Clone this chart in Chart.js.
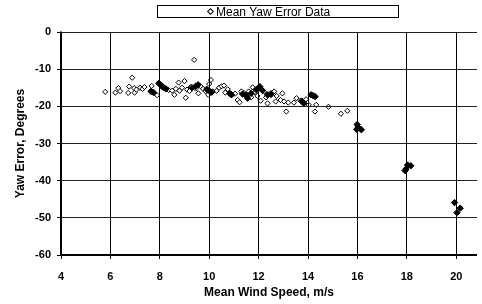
<!DOCTYPE html>
<html>
<head>
<meta charset="utf-8">
<script src="https://cdn.jsdelivr.net/npm/chart.js@4/dist/chart.umd.min.js"></script>
<style>
html,body{margin:0;padding:0;overflow:hidden;background:#fff;}
#wrap{position:absolute;left:0;top:0;width:482px;height:304px;}
#legend{position:absolute;left:157px;top:5px;width:240px;height:11px;border:1px solid #000;background:#fff;
 font-family:"Liberation Sans",Arial,sans-serif;font-size:12px;line-height:12px;color:#000;white-space:nowrap;}
#legend .mk{position:absolute;left:50px;top:3px;width:3px;height:3px;border:1px solid #000;background:#fff;transform:rotate(45deg);}
#legend .tx{position:absolute;left:58px;top:0px;}
</style>
</head>
<body>
<div id="wrap"><canvas id="c"></canvas></div>
<div id="legend"><span class="mk"></span><span class="tx">Mean Yaw Error Data</span></div>
<script>
// Open diamonds: Mean Yaw Error Data
const openX = [5.79,6.2,6.32,6.39,6.72,6.76,6.88,6.96,6.98,7.05,7.2,7.3,7.38,7.63,7.67,7.72,7.89,8.1,8.25,8.35,8.5,8.59,8.65,8.76,8.8,8.9,9.0,9.05,9.1,9.2,9.25,9.39,9.45,9.56,9.65,9.75,9.85,9.96,10.0,10.07,10.15,10.3,10.4,10.5,10.6,10.65,10.75,10.9,11.05,11.15,11.23,11.3,11.4,11.5,11.6,11.7,11.76,11.85,11.95,12.08,12.2,12.3,12.36,12.5,12.63,12.69,12.73,12.89,12.96,13.03,13.12,13.2,13.43,13.53,13.69,13.92,14.03,14.28,14.33,14.83,15.33,15.59];
const openY = [-16.1,-16.3,-15.1,-15.9,-16.4,-14.7,-12.3,-15.1,-16.3,-15.5,-15.0,-15.3,-14.8,-15.9,-14.5,-16.2,-17.0,-14.9,-15.3,-15.6,-15.8,-16.9,-15.3,-13.6,-15.8,-15.0,-13.2,-17.7,-15.5,-15.9,-14.8,-7.5,-15.2,-16.5,-14.6,-15.3,-15.9,-16.9,-14.0,-12.9,-16.0,-15.8,-15.0,-14.6,-14.4,-16.3,-15.4,-17.0,-16.6,-18.3,-18.9,-16.0,-16.4,-17.3,-16.0,-17.6,-14.9,-16.2,-17.2,-18.5,-16.0,-17.6,-19.2,-17.0,-16.0,-18.7,-17.2,-18.3,-16.5,-18.7,-21.4,-19.0,-19.0,-17.8,-18.5,-18.1,-19.6,-21.4,-19.6,-20.1,-22.0,-21.2];
// Filled diamonds
const fillX = [7.65,7.75,7.96,8.05,8.15,8.25,9.3,9.45,9.55,9.9,10.0,10.1,10.83,10.9,11.35,11.5,11.55,11.7,11.9,12.0,12.05,12.15,12.36,12.5,13.75,13.83,14.12,14.2,14.29,15.97,15.99,16.03,16.16,17.93,17.96,18.03,18.16,19.93,20.03,20.16];
const fillY = [-16.0,-16.3,-13.8,-14.3,-14.9,-15.3,-15.0,-14.6,-14.2,-15.4,-15.8,-16.2,-16.5,-16.9,-16.7,-17.0,-17.8,-16.5,-15.5,-15.0,-14.7,-15.7,-16.9,-16.6,-18.6,-19.2,-16.9,-17.1,-17.4,-26.2,-24.9,-25.6,-26.3,-37.3,-36.9,-35.8,-36.0,-45.9,-48.6,-47.4];
const xTickStep = 2;
const yTickStep = 10;

const pts = (xs, ys) => xs.map((x, i) => ({x: x, y: ys[i]}));
const FONT = '"Liberation Sans", Arial, sans-serif';

// Grid, tick marks and axis lines, positioned through the chart's own scales
const gridPlugin = {
  id: 'gridLines',
  afterDatasetsDraw(chart) {
    const {ctx, chartArea: a, scales: {x, y}} = chart;
    const al = p => Math.round(p - 0.5) + 0.5;
    const line = (x1, y1, x2, y2) => { ctx.beginPath(); ctx.moveTo(x1, y1); ctx.lineTo(x2, y2); ctx.stroke(); };
    ctx.save();
    ctx.setLineDash([]);
    ctx.globalAlpha = 1;
    ctx.lineWidth = 1;
    ctx.strokeStyle = '#000';
    x.ticks.forEach(t => { const px = al(x.getPixelForValue(t.value)); line(px, a.top, px, a.bottom + 4); });
    ctx.strokeStyle = '#222';
    y.ticks.forEach(t => { const py = al(y.getPixelForValue(t.value)); line(a.right, py, a.left, py); });
    ctx.strokeStyle = '#000';
    y.ticks.forEach(t => { const py = al(y.getPixelForValue(t.value)); line(a.left - 4, py, a.left, py); });
    ctx.lineWidth = 2;
    line(a.left, a.top - 0.5, a.left, a.bottom + 1);
    line(a.left - 1, a.bottom, a.right, a.bottom);
    ctx.restore();
  }
};

new Chart(document.getElementById('c'), {
  type: 'scatter',
  data: {
    datasets: [
      {label: 'Mean Yaw Error Data', data: pts(openX, openY), pointStyle: 'rectRot', pointRadius: 2.6,
       backgroundColor: '#fff', borderColor: '#000', borderWidth: 1, order: 1},
      {label: 'filled', data: pts(fillX, fillY), pointStyle: 'rectRot', pointRadius: 3.2,
       backgroundColor: '#000', borderColor: '#000', borderWidth: 1, order: 0}
    ]
  },
  plugins: [gridPlugin],
  options: {
    responsive: true, maintainAspectRatio: false, animation: false,
    layout: {padding: {top: 32, right: 0, left: 0, bottom: 0}},
    plugins: {legend: {display: false}, tooltip: {enabled: false}},
    scales: {
      x: {
        type: 'linear', min: 4, max: 20.84,
        afterFit: s => { s.height = 49; },
        ticks: {stepSize: xTickStep, includeBounds: false, color: '#000', font: {family: FONT, size: 11, weight: 'bold'}, padding: 0, maxRotation: 0},
        grid: {display: true, drawOnChartArea: true, drawTicks: true, color: 'rgba(0,0,0,0)', tickColor: 'rgba(0,0,0,0)', lineWidth: 1, tickLength: 15},
        border: {display: false},
        title: {display: true, text: 'Mean Wind Speed, m/s', color: '#000', font: {family: FONT, size: 12, weight: 'bold'}, padding: {top: 2, bottom: 4}}
      },
      y: {
        type: 'linear', min: -60, max: 0,
        afterFit: s => { s.width = 61; },
        ticks: {stepSize: yTickStep, color: '#000', font: {family: FONT, size: 11, weight: 'bold'}, padding: 6},
        grid: {display: true, drawOnChartArea: true, drawTicks: true, color: 'rgba(0,0,0,0)', tickColor: 'rgba(0,0,0,0)', lineWidth: 1, tickLength: 4},
        border: {display: false},
        title: {display: true, text: 'Yaw Error, Degrees', color: '#000', font: {family: FONT, size: 12, weight: 'bold'}, padding: {top: 13, bottom: 0}}
      }
    }
  }
});
</script>
</body>
</html>
